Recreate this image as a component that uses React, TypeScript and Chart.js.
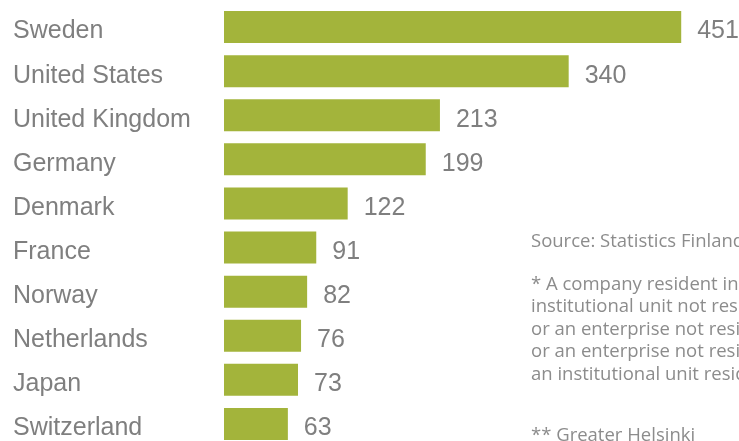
import { useEffect, useRef } from "react";
import { Chart, registerables } from "chart.js";

Chart.register(...registerables);

const countries = [
  "Sweden",
  "United States",
  "United Kingdom",
  "Germany",
  "Denmark",
  "France",
  "Norway",
  "Netherlands",
  "Japan",
  "Switzerland",
];
const values = [451, 340, 213, 199, 122, 91, 82, 76, 73, 63];

const sourceNote = "Source: Statistics Finland";
const footnoteLines = [
  "* A company resident in Finland, controlled by an",
  "institutional unit not resident in Finland,",
  "or an enterprise not resident in Finland,",
  "or an enterprise not resident in Finland controlled by",
  "an institutional unit resident in Finland",
];
const footnote2 = "** Greater Helsinki";

const BAR_COLOR = "#a3b43b";
const TEXT_GRAY = "#7f7f7f";
const NOTE_GRAY = "#8c8c8c";
const LABEL_FONT = "'Liberation Sans', Arial, sans-serif";

const valueLabels = {
  id: "valueLabels",
  afterDatasetsDraw(chart: any) {
    const ctx = chart.ctx;
    const meta = chart.getDatasetMeta(0);
    ctx.save();
    ctx.font = `25px ${LABEL_FONT}`;
    ctx.fillStyle = TEXT_GRAY;
    ctx.textAlign = "left";
    ctx.textBaseline = "middle";
    meta.data.forEach((bar: any, i: number) => {
      ctx.fillText(String(values[i]), bar.x + 16, bar.y + 4.5);
    });
    ctx.restore();
  },
};

export default function App() {
  const canvasRef = useRef<HTMLCanvasElement | null>(null);

  useEffect(() => {
    if (!canvasRef.current) return;
    const chart = new Chart(canvasRef.current, {
      type: "bar",
      data: {
        labels: countries,
        datasets: [
          {
            data: values,
            backgroundColor: BAR_COLOR,
            borderWidth: 0,
            barPercentage: 0.726,
            categoryPercentage: 1,
          },
        ],
      },
      options: {
        indexAxis: "y",
        responsive: false,
        animation: false,
        layout: { padding: { left: 13, top: 5, right: 0, bottom: 0 } },
        plugins: {
          legend: { display: false },
          tooltip: { enabled: false },
        },
        scales: {
          x: { display: false, min: 0, max: 508 },
          y: {
            grid: { display: false, drawTicks: false },
            border: { display: false },
            ticks: {
              crossAlign: "far",
              padding: 0,
              labelOffset: 4.5,
              color: TEXT_GRAY,
              font: { family: LABEL_FONT, size: 25 },
            },
            afterFit(scale: any) {
              scale.width = 211;
              scale.paddingTop = 0;
              scale.paddingBottom = 0;
            },
          },
        },
      },
      plugins: [valueLabels],
    } as any);
    return () => chart.destroy();
  }, []);

  const noteStyle: React.CSSProperties = {
    position: "absolute",
    left: 531,
    width: 208,
    overflow: "hidden",
    whiteSpace: "nowrap",
    fontFamily: "'Open Sans', sans-serif",
    fontSize: 18.5,
    lineHeight: "22.5px",
    color: NOTE_GRAY,
  };

  return (
    <div
      style={{
        position: "absolute",
        left: 0,
        top: 0,
        width: 739,
        height: 441,
        overflow: "hidden",
        background: "#ffffff",
      }}
    >
      <canvas ref={canvasRef} width={739} height={446} style={{ display: "block" }} />
      <div style={{ ...noteStyle, top: 229 }}>{sourceNote}</div>
      <div style={{ ...noteStyle, top: 271.5 }}>
        {footnoteLines.map((l, i) => (
          <div key={i}>{l}</div>
        ))}
      </div>
      <div style={{ ...noteStyle, top: 423 }}>{footnote2}</div>
    </div>
  );
}
